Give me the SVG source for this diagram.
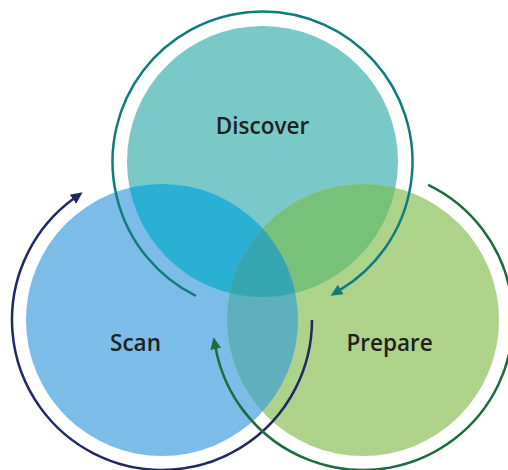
<svg xmlns="http://www.w3.org/2000/svg" width="508" height="470" viewBox="0 0 508 470">
  <style>
    .label { font-family: "Open Sans", "Liberation Sans", sans-serif; font-weight: 600; font-size: 22.5px; fill: #231F20; text-anchor: middle; }
    .ring { fill: none; stroke-width: 2.5; stroke-linecap: butt; }
  </style>
  <defs>
    <clipPath id="clipD"><circle cx="262.5" cy="161.5" r="135.5"/></clipPath>
    <clipPath id="clipS"><circle cx="162" cy="320" r="136"/></clipPath>
    <clipPath id="clipP"><circle cx="363" cy="320" r="136"/></clipPath>
    <marker id="arrTeal" markerUnits="userSpaceOnUse" markerWidth="12" markerHeight="12" viewBox="0 0 11 10" refX="1" refY="5" orient="auto">
      <path d="M0,0 L11,5 L0,10 z" fill="#0E7C7D"/>
    </marker>
    <marker id="arrNavy" markerUnits="userSpaceOnUse" markerWidth="12" markerHeight="12" viewBox="0 0 11 10" refX="1" refY="5" orient="auto">
      <path d="M0,0 L11,5 L0,10 z" fill="#1F2863"/>
    </marker>
    <marker id="arrGreen" markerUnits="userSpaceOnUse" markerWidth="12" markerHeight="12" viewBox="0 0 11 10" refX="1" refY="5" orient="auto">
      <path d="M0,0 L11,5 L0,10 z" fill="#1B6E3C"/>
    </marker>
  </defs>

  <g id="node-discover">
    <circle cx="262.5" cy="161.5" r="135.5" fill="#78C9C7"/>
    <text class="label" x="262.5" y="133.5">Discover</text>
  </g>
  <g id="node-scan">
    <circle cx="162" cy="320" r="136" fill="#7BBDE8"/>
    <text class="label" x="135.5" y="350.5">Scan</text>
  </g>
  <g id="node-prepare">
    <circle cx="363" cy="320" r="136" fill="#ADD38B"/>
    <text class="label" x="389.5" y="350.5">Prepare</text>
  </g>

  <g id="overlaps">
    <circle cx="162" cy="320" r="136" fill="#2AAFD5" clip-path="url(#clipD)"/>
    <circle cx="363" cy="320" r="136" fill="#78C17B" clip-path="url(#clipD)"/>
    <circle cx="363" cy="320" r="136" fill="#5EB0BC" clip-path="url(#clipS)"/>
    <g clip-path="url(#clipD)">
      <circle cx="363" cy="320" r="136" fill="#36A6B0" clip-path="url(#clipS)"/>
    </g>
  </g>

  <g id="connectors">
    <path class="ring" stroke="#0E7C7D" marker-end="url(#arrTeal)" d="M195.8,295.9 A150,150 0 1 1 339.8,290.1"/>
    <path class="ring" stroke="#1F2863" marker-end="url(#arrNavy)" d="M312,320 A150,150 0 1 1 73.8,198.6"/>
    <path class="ring" stroke="#1B6E3C" marker-end="url(#arrGreen)" d="M428.1,184.9 A150,150 0 1 1 215.6,347.9"/>
  </g>
</svg>
